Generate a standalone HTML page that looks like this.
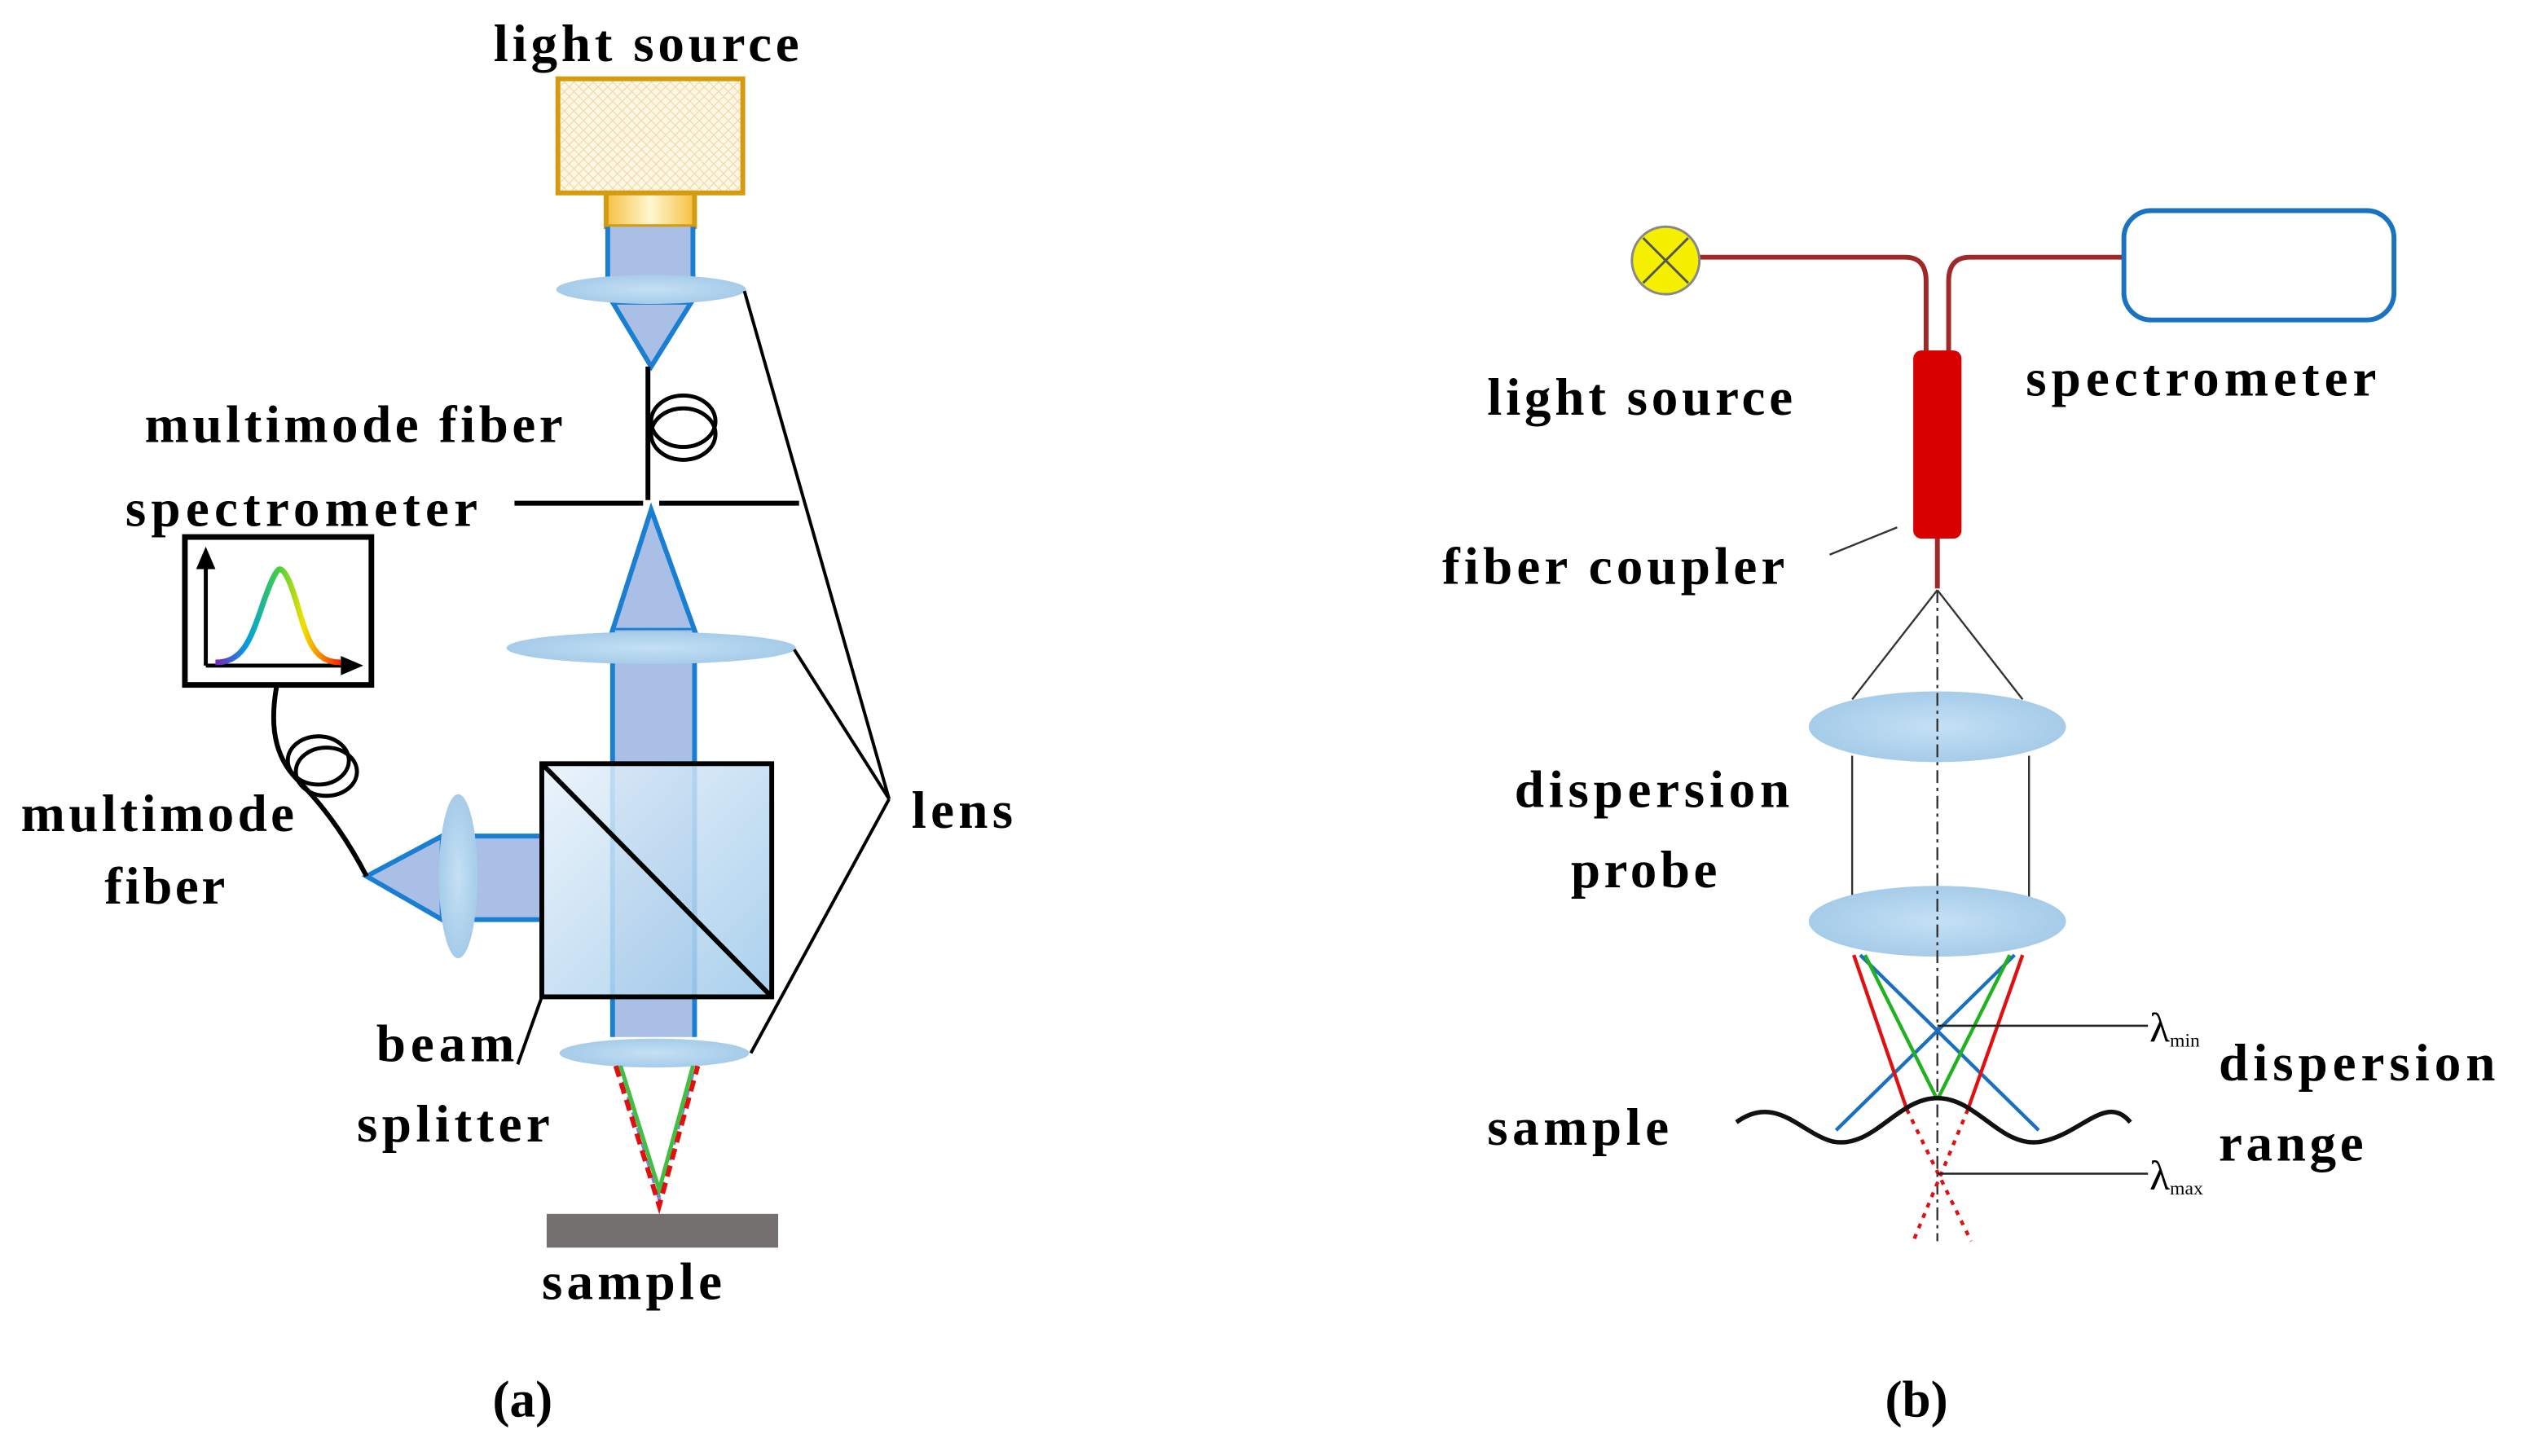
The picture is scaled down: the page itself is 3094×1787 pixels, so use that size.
<!DOCTYPE html>
<html><head><meta charset="utf-8"><style>
html,body{margin:0;padding:0;background:#fff;}
svg{display:block;}
text{font-family:"Liberation Serif",serif;font-weight:bold;fill:#000;}
</style></head><body>
<svg width="3094" height="1787" viewBox="0 0 1568 905.6" preserveAspectRatio="none" xmlns="http://www.w3.org/2000/svg">
<defs>
<pattern id="hatch" width="6" height="6" patternUnits="userSpaceOnUse">
<rect width="6" height="6" fill="#fff8e6"/>
<path d="M0 0L6 6M6 0L0 6" stroke="#f0d9a8" stroke-width="0.6"/>
</pattern>
<linearGradient id="yel" x1="0" y1="0" x2="1" y2="0">
<stop offset="0" stop-color="#f5c040"/><stop offset="0.5" stop-color="#fff6d0"/><stop offset="1" stop-color="#f5c040"/>
</linearGradient>
<radialGradient id="lensg" cx="0.5" cy="0.5" r="0.5">
<stop offset="0" stop-color="#c4e0f5"/><stop offset="1" stop-color="#a6cce9"/>
</radialGradient>
<linearGradient id="cube" x1="0" y1="0" x2="1" y2="1">
<stop offset="0" stop-color="#e8f2fa"/><stop offset="1" stop-color="#9cc8ea"/>
</linearGradient>
<linearGradient id="spec" x1="0" y1="0" x2="1" y2="0">
<stop offset="0" stop-color="#8020c0"/><stop offset="0.25" stop-color="#00a0e0"/><stop offset="0.5" stop-color="#40d040"/><stop offset="0.7" stop-color="#f0e000"/><stop offset="1" stop-color="#ff2000"/>
</linearGradient>
</defs>

<!-- Panel (a) -->
<text x="402" y="38" font-size="33" text-anchor="middle" textLength="190" lengthAdjust="spacing">light source</text>
<rect x="347" y="49" width="115" height="71" fill="url(#hatch)" stroke="#d49a10" stroke-width="3"/>
<rect x="377" y="120" width="55" height="21" fill="url(#yel)" stroke="#d49a10" stroke-width="3"/>
<rect x="378" y="141" width="53" height="40" fill="#a9bfe6"/>
<line x1="378" y1="141" x2="378" y2="178" stroke="#1a7fd0" stroke-width="3"/>
<line x1="431" y1="141" x2="431" y2="178" stroke="#1a7fd0" stroke-width="3"/>
<polygon points="381,188 430,188 405,228" fill="#a9bfe6" stroke="#1a7fd0" stroke-width="3"/>
<ellipse cx="405" cy="180" rx="59" ry="9" fill="url(#lensg)"/>
<line x1="403" y1="228" x2="403" y2="311" stroke="#000" stroke-width="3"/>
<ellipse cx="425" cy="262" rx="20" ry="16" fill="none" stroke="#000" stroke-width="2.5"/>
<ellipse cx="425" cy="270" rx="20" ry="16" fill="none" stroke="#000" stroke-width="2.5"/>
<line x1="320" y1="313" x2="400" y2="313" stroke="#000" stroke-width="3"/>
<line x1="410" y1="313" x2="497" y2="313" stroke="#000" stroke-width="3"/>
<text x="90" y="275" font-size="33" textLength="260" lengthAdjust="spacing">multimode fiber</text>
<text x="78" y="327" font-size="33" textLength="219" lengthAdjust="spacing">spectrometer</text>
<polygon points="405,317 381,392 432,392" fill="#a9bfe6" stroke="#1a7fd0" stroke-width="3"/>
<rect x="381" y="392" width="51" height="253" fill="#a9bfe6"/>
<line x1="381" y1="392" x2="381" y2="645" stroke="#1a7fd0" stroke-width="3"/>
<line x1="432" y1="392" x2="432" y2="645" stroke="#1a7fd0" stroke-width="3"/>
<ellipse cx="405" cy="403" rx="90" ry="10" fill="url(#lensg)"/>
<rect x="285" y="520" width="52" height="52" fill="#a9bfe6"/>
<line x1="285" y1="520" x2="337" y2="520" stroke="#1a7fd0" stroke-width="3"/>
<line x1="285" y1="572" x2="337" y2="572" stroke="#1a7fd0" stroke-width="3"/>
<polygon points="275,520 275,572 228,545" fill="#a9bfe6" stroke="#1a7fd0" stroke-width="3"/>
<ellipse cx="285" cy="545" rx="12" ry="51" fill="url(#lensg)"/>
<rect x="337" y="475" width="143" height="145" fill="url(#cube)" fill-opacity="0.85" stroke="#000" stroke-width="3"/>
<line x1="337" y1="475" x2="480" y2="620" stroke="#000" stroke-width="3"/>
<ellipse cx="407" cy="655" rx="59" ry="9" fill="url(#lensg)"/>
<path d="M385 663 L410 745 L432 663" fill="none" stroke="#8080e0" stroke-width="2.5" stroke-dasharray="6,4"/>
<path d="M386 663 L410 740 L431 663" fill="none" stroke="#40c040" stroke-width="2.5"/>
<path d="M383 663 L410 750 L434 663" fill="none" stroke="#e01010" stroke-width="3" stroke-dasharray="7,4"/>
<rect x="340" y="755" width="144" height="21" fill="#757070"/>
<text x="393" y="808" font-size="33" text-anchor="middle" textLength="112" lengthAdjust="spacing">sample</text>
<text x="325" y="881" font-size="32" text-anchor="middle">(a)</text>
<rect x="115" y="334" width="116" height="92" fill="#fff" stroke="#000" stroke-width="3.5"/>
<line x1="128" y1="414" x2="128" y2="352" stroke="#000" stroke-width="2.5"/>
<polygon points="128,340 122,354 134,354" fill="#000"/>
<line x1="128" y1="414" x2="212" y2="414" stroke="#000" stroke-width="2.5"/>
<polygon points="226,414 212,408 212,420" fill="#000"/>
<path d="M134 412 C150 412 155 400 162 380 C168 362 172 354 174 354 C177 354 181 362 186 380 C192 400 196 412 212 412" fill="none" stroke="url(#spec)" stroke-width="3.5"/>
<path d="M172 427 C168 450 170 470 185 485 C200 500 215 520 228 545" fill="none" stroke="#000" stroke-width="3"/>
<ellipse cx="198" cy="473" rx="19" ry="15" fill="none" stroke="#000" stroke-width="2.5"/>
<ellipse cx="203" cy="480" rx="19" ry="15" fill="none" stroke="#000" stroke-width="2.5"/>
<text x="13" y="517" font-size="33" textLength="170" lengthAdjust="spacing">multimode</text>
<text x="65" y="562" font-size="33" textLength="75" lengthAdjust="spacing">fiber</text>
<text x="320" y="660" font-size="33" text-anchor="end" textLength="86" lengthAdjust="spacing">beam</text>
<text x="222" y="710" font-size="33" textLength="120" lengthAdjust="spacing">splitter</text>
<line x1="337" y1="620" x2="322" y2="662" stroke="#000" stroke-width="2"/>
<line x1="463" y1="181" x2="553" y2="497" stroke="#000" stroke-width="2"/>
<line x1="494" y1="404" x2="553" y2="497" stroke="#000" stroke-width="2"/>
<line x1="467" y1="655" x2="553" y2="497" stroke="#000" stroke-width="2"/>
<text x="567" y="515" font-size="33" textLength="63" lengthAdjust="spacing">lens</text>

<!-- Panel (b) -->
<path d="M1057 160 L1185 160 Q1198 160 1198 175 L1198 220" fill="none" stroke="#a02828" stroke-width="3"/>
<path d="M1320 160 L1225 160 Q1212 160 1212 175 L1212 220" fill="none" stroke="#a02828" stroke-width="3"/>
<circle cx="1036" cy="162" r="21" fill="#f5f000" stroke="#888" stroke-width="1.5"/>
<line x1="1022" y1="148" x2="1050" y2="176" stroke="#555" stroke-width="1.5"/>
<line x1="1050" y1="148" x2="1022" y2="176" stroke="#555" stroke-width="1.5"/>
<rect x="1321" y="131" width="168" height="68" rx="17" fill="#fff" stroke="#1a73c0" stroke-width="3"/>
<rect x="1190" y="218" width="30" height="117" rx="5" fill="#d80000"/>
<line x1="1205" y1="335" x2="1205" y2="366" stroke="#a02828" stroke-width="3"/>
<text x="925" y="258" font-size="33" textLength="190" lengthAdjust="spacing">light source</text>
<text x="1260" y="246" font-size="33" textLength="218" lengthAdjust="spacing">spectrometer</text>
<text x="897" y="363" font-size="33" textLength="213" lengthAdjust="spacing">fiber coupler</text>
<line x1="1138" y1="345" x2="1180" y2="328" stroke="#333" stroke-width="1.2"/>
<line x1="1205" y1="367" x2="1152" y2="435" stroke="#333" stroke-width="1.2"/>
<line x1="1205" y1="367" x2="1258" y2="435" stroke="#333" stroke-width="1.2"/>
<line x1="1152" y1="470" x2="1152" y2="560" stroke="#333" stroke-width="1.2"/>
<line x1="1262" y1="470" x2="1262" y2="560" stroke="#333" stroke-width="1.2"/>
<ellipse cx="1205" cy="452" rx="80" ry="22" fill="url(#lensg)"/>
<ellipse cx="1205" cy="573" rx="80" ry="22" fill="url(#lensg)"/>
<line x1="1205" y1="367" x2="1205" y2="772" stroke="#333" stroke-width="1.2" stroke-dasharray="8,3,2,3"/>
<text x="942" y="502" font-size="33" textLength="171" lengthAdjust="spacing">dispersion</text>
<text x="977" y="552" font-size="33" textLength="91" lengthAdjust="spacing">probe</text>
<line x1="1157" y1="594" x2="1268" y2="703" stroke="#1a70c0" stroke-width="2.2"/>
<line x1="1253" y1="594" x2="1142" y2="703" stroke="#1a70c0" stroke-width="2.2"/>
<line x1="1160" y1="594" x2="1205" y2="684" stroke="#20b020" stroke-width="2.2"/>
<line x1="1250" y1="594" x2="1205" y2="684" stroke="#20b020" stroke-width="2.2"/>
<line x1="1153" y1="594" x2="1186" y2="690" stroke="#e01010" stroke-width="2.2"/>
<line x1="1258" y1="594" x2="1224" y2="690" stroke="#e01010" stroke-width="2.2"/>
<line x1="1186" y1="690" x2="1226" y2="772" stroke="#e01010" stroke-width="2.2" stroke-dasharray="3,4"/>
<line x1="1224" y1="690" x2="1190" y2="772" stroke="#e01010" stroke-width="2.2" stroke-dasharray="3,4"/>
<path d="M1080 698 C1105 680 1120 705 1140 710 C1165 715 1180 683 1205 683 C1230 683 1245 715 1270 710 C1295 705 1310 680 1325 698" fill="none" stroke="#111" stroke-width="2.8"/>
<line x1="1205" y1="638" x2="1336" y2="638" stroke="#222" stroke-width="1.3"/>
<line x1="1205" y1="730" x2="1336" y2="730" stroke="#222" stroke-width="1.3"/>
<text x="1337" y="648" font-size="26" style="font-weight:normal">λ<tspan font-size="12" dy="3">min</tspan></text>
<text x="1337" y="740" font-size="26" style="font-weight:normal">λ<tspan font-size="12" dy="3">max</tspan></text>
<text x="1380" y="672" font-size="33" textLength="172" lengthAdjust="spacing">dispersion</text>
<text x="1380" y="722" font-size="33" textLength="90" lengthAdjust="spacing">range</text>
<text x="925" y="712" font-size="33" textLength="113" lengthAdjust="spacing">sample</text>
<text x="1192" y="881" font-size="32" text-anchor="middle">(b)</text>
</svg>
</body></html>
